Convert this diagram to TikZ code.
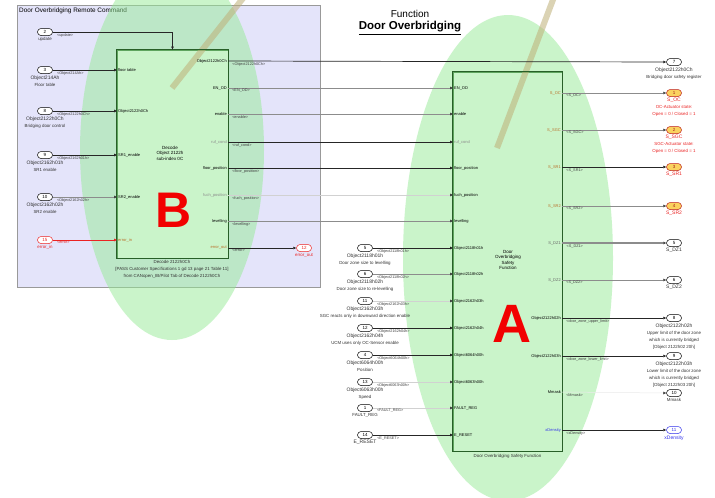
\documentclass[tikz,border=0pt]{standalone}
\usepackage{fontspec}
\setmainfont{Liberation Sans}
\usetikzlibrary{arrows.meta,shapes.misc,positioning}

\definecolor{lavender}{RGB}{228,228,250}
\definecolor{blob}{RGB}{150,235,150}
\definecolor{stripe}{RGB}{190,175,120}
\definecolor{blockline}{RGB}{40,95,40}
\definecolor{portfill}{RGB}{250,210,95}
\definecolor{errred}{RGB}{235,35,35}
\definecolor{xblue}{RGB}{50,50,235}
\definecolor{brownport}{RGB}{185,110,40}

\newcommand{\namefont}{\fontsize{5}{7}\selectfont}

\tikzset{
  block/.style={draw=blockline, line width=0.8pt, fill=white, inner sep=0pt},
  port/.style={draw, rounded rectangle, fill=white, minimum width=15pt, minimum height=7pt,
    inner sep=0pt, line width=0.5pt, font=\fontsize{4.5}{5}\selectfont},
  errport/.style={port, draw=errred, text=errred},
  actport/.style={port, draw=errred!80!black, fill=portfill, text=errred!70!black},
  blueport/.style={port, draw=xblue, text=xblue},
  pin/.style={inner sep=1pt, font=\fontsize{4}{4.5}\selectfont},
  lbl/.style={pos=0, anchor=north west, xshift=3pt, inner sep=1pt,
    font=\fontsize{3.8}{4.5}\selectfont, text=black!75},
  desc/.style={align=center, inner sep=0pt, font=\fontsize{4.4}{7}\selectfont, text=black!80},
  sig/.style={-{Triangle[length=3pt,width=2.6pt]}, line width=0.7pt, black!85},
  sigmid/.style={-{Triangle[length=3pt,width=2.6pt,color=black!75]}, line width=0.55pt, black!45},
  sigfaint/.style={-{Triangle[length=3pt,width=2.6pt,color=black!75]}, line width=0.5pt, black!18},
  letter/.style={font=\fontsize{50}{50}\selectfont\bfseries, text=red!95!black},
}

\begin{document}
\begin{tikzpicture}[x=1pt, y=-1pt]
\path[use as bounding box, fill=white] (0,0) rectangle (715,498);

% remote command subsystem
\path[fill=lavender, draw=black!40, line width=0.6pt] (17,5) rectangle (320,287);
\node[anchor=west, inner sep=0pt, font=\fontsize{6.4}{7}\selectfont] (sub) at (19,10.5) {Door Overbridging Remote Command};

% blocks, white first and tinted afterwards
\node[block, minimum width=111pt, minimum height=208pt] (B) at (172.5,154) {};
\node[block, minimum width=109pt, minimum height=379pt] (A) at (507.5,261.5) {};

% marked regions
\fill[blob, fill opacity=0.5] (172,150) ellipse [x radius=92, y radius=190];
\fill[blob, fill opacity=0.5] (508,258) ellipse [x radius=105, y radius=243];
\draw[stripe, line width=6pt, draw opacity=0.55] (244,-3) -- (172,88);
\draw[stripe, line width=6pt, draw opacity=0.55] (554,-3) -- (497,148);
\draw[blockline, line width=0.8pt] (B.north west) rectangle (B.south east);
\draw[blockline, line width=0.8pt] (A.north west) rectangle (A.south east);

% title
\node[font=\fontsize{10}{11}\selectfont] (fn) at (410,14) {Function};
\node[font=\fontsize{11.5}{13}\selectfont\bfseries] (ttl) at (410,28) {\underline{Door Overbridging}};

% block B
\node[font=\fontsize{4.5}{5.5}\selectfont, align=center] (Bt) at (170,153) {Decode\\Object 2122h\\sub-index 0C};
\node[desc, anchor=north] (Bcap) at (172,260.5) {Decode 2122h0Ch\\{}[PASS Customer Specifications 1 gd 13 page 21 Table 11]\\from CANopen\_IB/Pilot Tab of Decode 2122h0Ch};
\node[pin, anchor=west] (bi1) at (117,70) {floor table};
\node[pin, anchor=west] (bi2) at (117,111) {Object2122h0Ch};
\node[pin, anchor=west] (bi3) at (117,155) {SR1\_enable};
\node[pin, anchor=west] (bi4) at (117,197) {SR2\_enable};
\node[pin, anchor=west, text=brownport] (bi5) at (117,240) {error\_in};
\node[pin, anchor=east] (bo1) at (228,61) {Object2122h0Ch};
\node[pin, anchor=east] (bo2) at (228,88) {EN\_OD};
\node[pin, anchor=east] (bo3) at (228,114) {enable};
\node[pin, anchor=east, text=black!45] (bo4) at (228,142) {ruf\_cond};
\node[pin, anchor=east] (bo5) at (228,168) {floor\_position};
\node[pin, anchor=east, text=black!45] (bo6) at (228,195) {fuch\_position};
\node[pin, anchor=east] (bo7) at (228,221) {levelling};
\node[pin, anchor=east, text=brownport] (bo8) at (228,248) {error\_out};

% inputs of B
\node[port] (in2) at (45,32) {2};
\node[desc, below=1.5pt of in2] (in2t) {update};
\node[port] (in3) at (45,70) {3};
\node[desc, below=1.5pt of in3] (in3t) {{\namefont Object214Ah}\\Floor table};
\node[port] (in8) at (45,111) {8};
\node[desc, below=1.5pt of in8] (in8t) {{\namefont Object2122h0Ch}\\Bridging door control};
\node[port] (in9) at (45,155) {9};
\node[desc, below=1.5pt of in9] (in9t) {{\namefont Object2162h01h}\\SR1 enable};
\node[port] (in10) at (45,197) {10};
\node[desc, below=1.5pt of in10] (in10t) {{\namefont Object2162h02h}\\SR2 enable};
\node[errport] (in15) at (45,240) {15};
\node[desc, below=1.5pt of in15, text=errred] (in15t) {error\_in};

\draw[sig] (in2.east) -| node[lbl]{<update>} (B.north);
\draw[sig] (in3.east) -- node[lbl]{<Object214Ah>} (bi1.west);
\draw[sig] (in8.east) -- node[lbl]{<Object2122h0Ch>} (bi2.west);
\draw[sig] (in9.east) -- node[lbl]{<Object2162h01h>} (bi3.west);
\draw[sigmid] (in10.east) -- node[lbl]{<Object2162h02h>} (bi4.west);
\draw[sig, errred] (in15.east) -- node[lbl, text=errred]{<error>} (bi5.west);

% block A
\node[font=\fontsize{4.5}{5.5}\selectfont, align=center] (At) at (508,260) {Door\\Overbridging\\Safety\\Function};
\node[desc, anchor=north] (Acap) at (507.5,454.5) {Door Overbridging Safety Function};
\node[pin, anchor=west] (ai1) at (453,88) {EN\_OD};
\node[pin, anchor=west] (ai2) at (453,114) {enable};
\node[pin, anchor=west, text=black!45] (ai3) at (453,142) {ruf\_cond};
\node[pin, anchor=west] (ai4) at (453,168) {floor\_position};
\node[pin, anchor=west] (ai5) at (453,195) {fuch\_position};
\node[pin, anchor=west] (ai6) at (453,221) {levelling};
\node[pin, anchor=west] (ai7) at (453,248) {Object2118h01h};
\node[pin, anchor=west] (ai8) at (453,274) {Object2118h02h};
\node[pin, anchor=west] (ai9) at (453,301) {Object2162h03h};
\node[pin, anchor=west] (ai10) at (453,328) {Object2162h04h};
\node[pin, anchor=west] (ai11) at (453,355) {Object6064h00h};
\node[pin, anchor=west] (ai12) at (453,382) {Object6063h00h};
\node[pin, anchor=west] (ai13) at (453,408) {FAULT\_REG};
\node[pin, anchor=west] (ai14) at (453,435) {E\_RESET};
\node[pin, anchor=east, text=brownport] (ao1) at (562,93) {S\_OC};
\node[pin, anchor=east, text=brownport] (ao2) at (562,130) {S\_SGC};
\node[pin, anchor=east, text=brownport] (ao3) at (562,167) {S\_SR1};
\node[pin, anchor=east, text=brownport] (ao4) at (562,206) {S\_SR2};
\node[pin, anchor=east, text=black!60] (ao5) at (562,243) {S\_DZ1};
\node[pin, anchor=east, text=black!60] (ao6) at (562,280) {S\_DZ2};
\node[pin, anchor=east] (ao7) at (562,318) {Object2122h02h};
\node[pin, anchor=east] (ao8) at (562,356) {Object2122h03h};
\node[pin, anchor=east] (ao9) at (562,392) {Mmask};
\node[pin, anchor=east, text=xblue] (ao10) at (562,430) {xDensity};

% connections B -> A
\node[port] (o7) at (674,62) {7};
\node[desc, below=1.5pt of o7] (o7t) {{\namefont Object2122h0Ch}\\Bridging door safety register};
\draw[sig] (bo1.east) -- node[lbl]{<Object2122h0Ch>} (o7.west);
\draw[sigmid] (bo2.east) -- node[lbl]{<EN\_OD>} (ai1.west);
\draw[sigmid] (bo3.east) -- node[lbl]{<enable>} (ai2.west);
\draw[sig] (bo4.east) -- node[lbl]{<ruf\_cond>} (ai3.west);
\draw[sig] (bo5.east) -- node[lbl]{<floor\_position>} (ai4.west);
\draw[sigfaint] (bo6.east) -- node[lbl]{<fuch\_position>} (ai5.west);
\draw[sigmid] (bo7.east) -- node[lbl]{<levelling>} (ai6.west);

\node[errport] (out12) at (304,248) {12};
\node[desc, below=1.5pt of out12, text=errred] (out12t) {error\_out};
\draw[sig] (bo8.east) -- node[lbl]{<error>} (out12.west);

% inputs of A
\node[port] (p5) at (365,248) {5};
\node[desc, below=1.5pt of p5] (p5t) {{\namefont Object2118h01h}\\Door zone size to levelling};
\node[port] (p6) at (365,274) {6};
\node[desc, below=1.5pt of p6] (p6t) {{\namefont Object2118h02h}\\Door zone size to re-levelling};
\node[port] (p11) at (365,301) {11};
\node[desc, below=1.5pt of p11] (p11t) {{\namefont Object2162h03h}\\SGC reacts only in downward direction enable};
\node[port] (p12) at (365,328) {12};
\node[desc, below=1.5pt of p12] (p12t) {{\namefont Object2162h04h}\\UCM uses only OC-Sensor enable};
\node[port] (p4) at (365,355) {4};
\node[desc, below=1.5pt of p4] (p4t) {{\namefont Object6064h00h}\\Position};
\node[port] (p13) at (365,382) {13};
\node[desc, below=1.5pt of p13] (p13t) {{\namefont Object6063h00h}\\Speed};
\node[port] (p1) at (365,408) {1};
\node[desc, below=1.5pt of p1] (p1t) {FAULT\_REG};
\node[port] (p14) at (365,435) {14};
\node[desc, below=1.5pt of p14] (p14t) {{\namefont E\_RESET}};

\draw[sig] (p5.east) -- node[lbl]{<Object2118h01h>} (ai7.west);
\draw[sigmid] (p6.east) -- node[lbl]{<Object2118h02h>} (ai8.west);
\draw[sigfaint] (p11.east) -- node[lbl]{<Object2162h03h>} (ai9.west);
\draw[sig, line width=1pt] (p12.east) -- node[lbl]{<Object2162h04h>} (ai10.west);
\draw[sig, line width=1pt] (p4.east) -- node[lbl]{<Object6064h00h>} (ai11.west);
\draw[sigfaint] (p13.east) -- node[lbl]{<Object6063h00h>} (ai12.west);
\draw[sigfaint] (p1.east) -- node[lbl]{<FAULT\_REG>} (ai13.west);
\draw[sig, line width=1pt] (p14.east) -- node[lbl]{<E\_RESET>} (ai14.west);

% outputs
\node[actport] (o1) at (674,93) {1};
\node[desc, below=1.5pt of o1, text=errred] (o1t) {{\namefont S\_OC}\\OC-Actuator state:\\Open = 0 / Closed = 1};
\node[actport] (o2) at (674,130) {2};
\node[desc, below=1.5pt of o2, text=errred] (o2t) {{\namefont S\_SGC}\\SGC-Actuator state:\\Open = 0 / Closed = 1};
\node[actport] (o3) at (674,167) {3};
\node[desc, below=1.5pt of o3, text=errred] (o3t) {{\namefont S\_SR1}};
\node[actport] (o4) at (674,206) {4};
\node[desc, below=1.5pt of o4, text=errred] (o4t) {{\namefont S\_SR2}};
\node[port] (o5) at (674,243) {5};
\node[desc, below=1.5pt of o5] (o5t) {{\namefont S\_DZ1}};
\node[port] (o6) at (674,280) {6};
\node[desc, below=1.5pt of o6] (o6t) {{\namefont S\_DZ2}};
\node[port] (o8) at (674,318) {8};
\node[desc, below=1.5pt of o8] (o8t) {{\namefont Object2122h02h}\\Upper limit of the door zone\\which is currently bridged\\{}[Object 2122h02 20h]};
\node[port] (o9) at (674,356) {9};
\node[desc, below=1.5pt of o9] (o9t) {{\namefont Object2122h03h}\\Lower limit of the door zone\\which is currently bridged\\{}[Object 2122h03 20h]};
\node[port] (o10) at (674,393) {10};
\node[desc, below=1.5pt of o10] (o10t) {Mmask};
\node[blueport] (o11) at (674,430) {11};
\node[desc, below=1.5pt of o11, text=xblue] (o11t) {{\namefont xDensity}};

\draw[sigmid] (ao1.east) -- node[lbl]{<S\_OC>} (o1.west);
\draw[sigmid] (ao2.east) -- node[lbl]{<S\_SGC>} (o2.west);
\draw[sig] (ao3.east) -- node[lbl]{<S\_SR1>} (o3.west);
\draw[sigmid] (ao4.east) -- node[lbl]{<S\_SR2>} (o4.west);
\draw[sigmid, line width=1.3pt] (ao5.east) -- node[lbl]{<S\_DZ1>} (o5.west);
\draw[sigmid] (ao6.east) -- node[lbl]{<S\_DZ2>} (o6.west);
\draw[sig] (ao7.east) -- node[lbl]{<door\_zone\_upper\_limit>} (o8.west);
\draw[sig] (ao8.east) -- node[lbl]{<door\_zone\_lower\_limit>} (o9.west);
\draw[sigfaint, black!8] (ao9.east) -- node[lbl]{<Mmask>} (o10.west);
\draw[sig] (ao10.east) -- node[lbl]{<xDensity>} (o11.west);

% markers
\node[letter] (Blet) at (173.5,210.5) {B};
\node[letter, font=\fontsize{54}{54}\selectfont\bfseries] (Alet) at (512,324) {A};
\end{tikzpicture}
\end{document}
